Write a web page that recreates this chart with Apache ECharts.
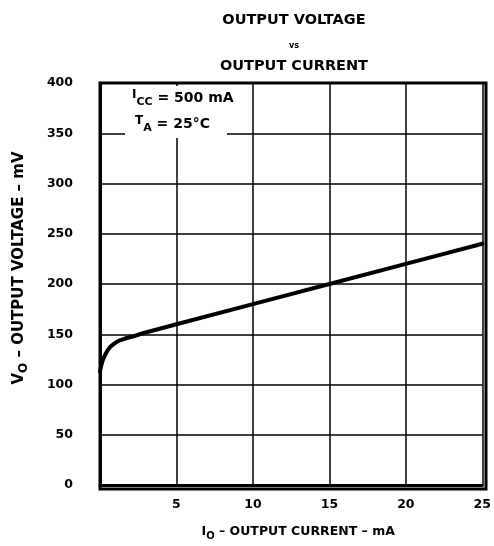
<!DOCTYPE html>
<html>
<head>
<meta charset="utf-8">
<script src="https://cdn.jsdelivr.net/npm/echarts@6/dist/echarts.min.js"></script>
<style>
  html, body { margin: 0; padding: 0; background: #fff; }
  #chart { width: 494px; height: 546px; }
</style>
</head>
<body>
<div id="chart"></div>
<script>
// 输出电压 vs 输出电流
const currentMA = [0, 0.1, 0.2, 0.35, 0.5, 0.7, 1.0, 1.3, 1.7, 2.2, 2.8, 5, 10, 15, 20, 25];
const voltageMV = [113, 120, 125, 130, 134, 138, 141.5, 144, 146, 148, 151, 160, 180, 200, 220, 240];
const xTicks = [5, 10, 15, 20, 25];
const titleLines = ['OUTPUT VOLTAGE', 'vs', 'OUTPUT CURRENT'];

const font = '"DejaVu Sans", sans-serif';
const chart = echarts.init(document.getElementById('chart'));

const base = { fontSize: 12.5, fontWeight: 'bold', fontFamily: font, color: '#000' };
const sub = { fontSize: 10, fontWeight: 'bold', fontFamily: font, color: '#000', padding: [8, 0, 0, 0] };
const bigBase = { fontSize: 15, fontWeight: 'bold', fontFamily: font, color: '#000' };
const bigSub = { fontSize: 12, fontWeight: 'bold', fontFamily: font, color: '#000', padding: [9, 0, 0, 0] };
const noteBase = { fontSize: 14, fontWeight: 'bold', fontFamily: font, color: '#000' };
const noteSub = { fontSize: 11, fontWeight: 'bold', fontFamily: font, color: '#000', padding: [8, 0, 0, 0] };
const noteSup = { fontSize: 12, fontWeight: 'bold', fontFamily: font, color: '#000', padding: [0, 0, 6, 0] };
const titleStyle = { fontSize: 14.5, fontWeight: 'bold', fontFamily: font, color: '#000' };

chart.setOption({
    animation: false,
    title: [
        { text: titleLines[0], left: 289, top: 8, textAlign: 'center', textStyle: titleStyle },
        { text: titleLines[1], left: 289, top: 37, textAlign: 'center',
          textStyle: { fontSize: 8, fontWeight: 'bold', fontFamily: font, color: '#000' } },
        { text: titleLines[2], left: 289, top: 54, textAlign: 'center', textStyle: titleStyle }
    ],
    grid: { left: 100, right: 8, top: 83, bottom: 57 },
    xAxis: {
        type: 'value', min: 0, max: 25, interval: 5,
        name: '{b|I}{s|O}{b| – OUTPUT CURRENT – mA}',
        nameLocation: 'middle', nameGap: 38,
        nameTextStyle: { rich: { b: base, s: sub }, padding: [0, 0, 0, 14] },
        axisLine: { lineStyle: { color: '#000', width: 3 } },
        axisTick: { show: false },
        axisLabel: {
            color: '#000', fontSize: 12.5, fontWeight: 'bold', fontFamily: font, margin: 13,
            formatter: v => xTicks.includes(v) ? String(v) : ''
        },
        splitLine: { show: true, lineStyle: { color: '#000', width: 1.5 } }
    },
    yAxis: {
        type: 'value', min: 0, max: 400, interval: 50,
        name: '{b|V}{s|O}{b| – OUTPUT VOLTAGE – mV}',
        nameLocation: 'middle', nameGap: 70, nameRotate: 90,
        nameTextStyle: { rich: { b: bigBase, s: bigSub }, padding: [0, 0, 0, 32] },
        axisLine: { show: true, lineStyle: { color: '#000', width: 3 } },
        axisTick: { show: false },
        axisLabel: { color: '#000', fontSize: 12.5, fontWeight: 'bold', fontFamily: font, margin: 27 },
        splitLine: { show: true, lineStyle: { color: '#000', width: 1.5 } }
    },
    graphic: [
        // 外框
        { type: 'rect', shape: { x: 100, y: 83, width: 386, height: 406 },
          style: { fill: 'none', stroke: '#000', lineWidth: 3 }, z: 10 },
        // 条件标注的白底
        { type: 'rect', shape: { x: 125, y: 86, width: 102, height: 52 },
          style: { fill: '#fff' }, z: 20 },
        { type: 'rect', shape: { x: 227, y: 86, width: 20, height: 30 },
          style: { fill: '#fff' }, z: 20 },
        { type: 'text', left: 132, top: 89, z: 21,
          style: { text: '{p|I}{s|CC}{b| = 500 mA}', rich: { b: noteBase, s: noteSub, p: noteSup } } },
        { type: 'text', left: 135, top: 115, z: 21,
          style: { text: '{p|T}{s|A}{b| = 25°C}', rich: { b: noteBase, s: noteSub, p: noteSup } } }
    ],
    series: [{
        type: 'line',
        data: currentMA.map((x, i) => [x, voltageMV[i]]),
        showSymbol: false,
        lineStyle: { color: '#000', width: 4, join: 'round', cap: 'round' },
        z: 5
    }]
});
</script>
</body>
</html>
